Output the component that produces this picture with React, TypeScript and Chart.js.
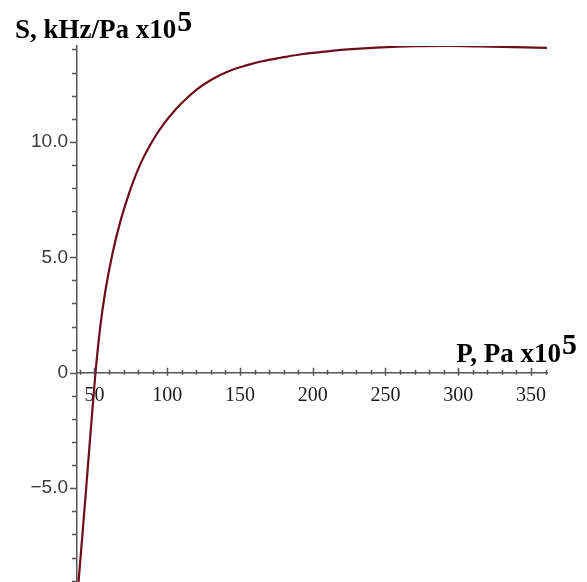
import React, { useEffect, useRef } from 'react';
import { Chart, registerables } from 'chart.js';

Chart.register(...registerables);

// Curve: P (Pa x10^5) vs S (kHz/Pa x10^5)
const pressure = [39, 42, 44.3, 47, 50.7, 54, 57.5, 62.5, 68, 75, 82, 90, 97, 105, 112, 120, 130, 143, 155, 166, 178, 189, 200, 212, 224, 247, 270, 292, 315, 338, 361];
const sensitivity = [-9.1, -6.8, -5.0, -2.85, 0, 2.0, 3.55, 5.2, 6.6, 8.0, 9.1, 10.05, 10.72, 11.35, 11.8, 12.25, 12.68, 13.08, 13.32, 13.5, 13.64, 13.76, 13.85, 13.93, 14.0, 14.09, 14.14, 14.15, 14.13, 14.1, 14.07];

const xMajorTicks = [50, 100, 150, 200, 250, 300, 350];
const xTickLabels = ['50', '100', '150', '200', '250', '300', '350'];
const yMajorTicks = [-5, 0, 5, 10];
const yTickLabels = ['\u22125.0', '0', '5.0', '10.0'];
const xRange = [38, 361];
const yRange = [-9.06, 14.15];
const xMinorStep = 10;
const yMinorStep = 1;

const yTitle = 'S, kHz/Pa x10';
const xTitle = 'P, Pa x10';
const titleExponent = '5';

const axisColor = '#555555';
const curveColor = '#6e0c1c';

function stepTicks(min: number, max: number, step: number) {
  const out: { value: number }[] = [];
  for (let v = Math.ceil(min / step) * step; v <= max + 1e-9; v += step) {
    out.push({ value: Math.round(v * 1000) / 1000 });
  }
  return out;
}

const mapleAxesPlugin = {
  id: 'mapleAxes',
  afterDraw(chart: any) {
    const { ctx, chartArea, scales } = chart;
    const xs = scales.x;
    const ys = scales.y;
    const y0 = ys.getPixelForValue(0);
    const left = chartArea.left;
    ctx.save();
    ctx.strokeStyle = axisColor;
    ctx.lineWidth = 1.5;
    ctx.beginPath();
    stepTicks(xRange[0], xRange[1], xMinorStep).forEach(({ value }) => {
      const px = Math.round(xs.getPixelForValue(value)) + 0.5;
      const major = xMajorTicks.includes(value);
      ctx.moveTo(px, y0 - (major ? 5 : 3));
      ctx.lineTo(px, y0 + (major ? 3 : 2));
    });
    stepTicks(yRange[0], yRange[1], yMinorStep).forEach(({ value }) => {
      const py = Math.round(ys.getPixelForValue(value)) + 0.5;
      const major = yMajorTicks.includes(value);
      ctx.moveTo(left - (major ? 7 : 5), py);
      ctx.lineTo(left, py);
    });
    ctx.stroke();

    // axis titles with superscript exponent
    ctx.fillStyle = '#000000';
    ctx.textBaseline = 'alphabetic';
    ctx.textAlign = 'left';
    const mainFont = 'bold 27px "Liberation Serif", "Times New Roman", serif';
    const supFont = 'bold 30px "Liberation Serif", "Times New Roman", serif';

    // y title
    let bx = left - 62;
    let by = chartArea.top - 8;
    ctx.font = mainFont;
    ctx.fillText(yTitle, bx, by);
    const w = ctx.measureText(yTitle).width;
    ctx.font = supFont;
    ctx.fillText(titleExponent, bx + w + 1, by - 7);

    // x title
    ctx.font = mainFont;
    const wMain = ctx.measureText(xTitle).width;
    ctx.font = supFont;
    const wSup = ctx.measureText(titleExponent).width;
    bx = chartArea.right + 30 - wMain - wSup - 1;
    by = y0 - 11;
    ctx.font = mainFont;
    ctx.fillText(xTitle, bx, by);
    ctx.font = supFont;
    ctx.fillText(titleExponent, bx + wMain + 1, by - 8);
    ctx.restore();
  },
};

export default function App() {
  const canvasRef = useRef<HTMLCanvasElement | null>(null);

  useEffect(() => {
    if (!canvasRef.current) return;
    const points = pressure.map((p, i) => ({ x: p, y: sensitivity[i] }));
    const chart = new Chart(canvasRef.current, {
      type: 'scatter',
      data: {
        datasets: [
          {
            data: points,
            showLine: true,
            borderColor: curveColor,
            backgroundColor: curveColor,
            borderWidth: 2.2,
            pointRadius: 0,
            pointHoverRadius: 0,
            cubicInterpolationMode: 'monotone',
            fill: false,
          },
        ],
      },
      options: {
        animation: false,
        responsive: true,
        maintainAspectRatio: false,
        layout: { padding: { top: 46, right: 40, bottom: 0, left: 0 } },
        plugins: {
          legend: { display: false },
          tooltip: { enabled: false },
          title: { display: false },
        },
        scales: {
          x: {
            type: 'linear',
            min: xRange[0],
            max: xRange[1],
            position: { y: 0 },
            afterBuildTicks: (scale: any) => {
              scale.ticks = stepTicks(xRange[0], xRange[1], xMinorStep);
            },
            afterFit: (scale: any) => {
              scale.paddingLeft = 0;
              scale.paddingRight = 0;
              scale.paddingTop = 0;
              scale.paddingBottom = 0;
            },
            ticks: {
              autoSkip: false,
              maxRotation: 0,
              minRotation: 0,
              padding: 11,
              color: '#1a1a1a',
              font: { family: '"Liberation Serif", "Times New Roman", serif', size: 20 },
              callback: (v: any) => {
                const i = xMajorTicks.indexOf(Number(v));
                return i >= 0 ? xTickLabels[i] : null;
              },
            },
            grid: { display: false, drawTicks: false, tickLength: 0 },
            border: { display: true, color: axisColor, width: 1.5 },
          },
          y: {
            type: 'linear',
            min: yRange[0],
            max: yRange[1],
            position: 'left',
            afterBuildTicks: (scale: any) => {
              scale.ticks = stepTicks(yRange[0], yRange[1], yMinorStep);
            },
            afterFit: (scale: any) => {
              scale.width = 77;
              scale.paddingTop = 0;
              scale.paddingBottom = 0;
              scale.paddingLeft = 0;
              scale.paddingRight = 0;
            },
            ticks: {
              autoSkip: false,
              padding: 9,
              color: '#3a3a3a',
              font: { family: '"Liberation Sans", Arial, sans-serif', size: 19 },
              callback: (v: any) => {
                const i = yMajorTicks.indexOf(Number(v));
                return i >= 0 ? yTickLabels[i] : null;
              },
            },
            grid: { display: false, drawTicks: false, tickLength: 0 },
            border: { display: true, color: axisColor, width: 1.5 },
          },
        },
      },
      plugins: [mapleAxesPlugin],
    } as any);
    return () => chart.destroy();
  }, []);

  return (
    <div style={{ position: 'fixed', left: 0, top: 0, width: 587, height: 582, background: '#ffffff' }}>
      <canvas ref={canvasRef} />
    </div>
  );
}
